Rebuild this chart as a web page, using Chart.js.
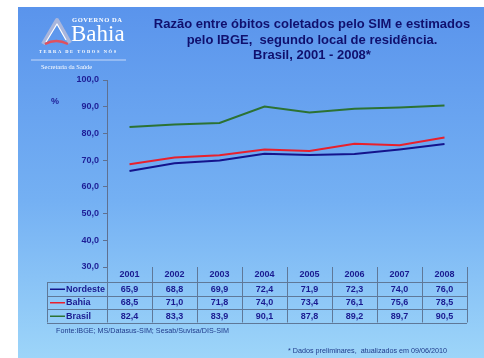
<!DOCTYPE html>
<html>
<head>
<meta charset="utf-8">
<script src="https://cdn.jsdelivr.net/npm/chart.js@4"></script>
<style>
body { margin: 0; background: #fff; font-family: "Liberation Sans", Arial, sans-serif; }
#slide { position: absolute; left: 18px; top: 7px; width: 466px; height: 351px;
  background: linear-gradient(#5a94ec, #74b0f3 55%, #9dd5f9); }
canvas { position: absolute; left: 0; top: 0; }
.t { position: absolute; white-space: nowrap; }
#title { left: 142px; top: 16px; width: 340px; text-align: center; color: #10106e;
  font-weight: bold; font-size: 13px; line-height: 15.5px; }
#gov { left: 72px; top: 16px; color: #fff; font: bold 6.5px "Liberation Serif", serif; letter-spacing: 0.6px; }
#bahia { left: 71px; top: 21px; color: #fff; font: 23px "Liberation Serif", serif; }
#terra { left: 39px; top: 49px; color: #fff; font: bold 4.5px "Liberation Serif", serif; letter-spacing: 1.6px; }
#sec { left: 41px; top: 63px; color: #fff; font: 6.5px "Liberation Serif", serif; }
#pct { left: 51px; top: 96px; color: #1e1e96; font-weight: bold; font-size: 9px; }
#fonte { left: 56px; top: 326px; color: #1f3a8a; font-size: 7.2px; }
#nota { left: 288px; top: 346px; color: #1f3a8a; font-size: 7.2px; }
</style>
</head>
<body>
<div id="slide"></div>
<canvas id="chart" width="484" height="358"></canvas>
<div class="t" id="gov">GOVERNO DA</div>
<div class="t" id="bahia">Bahia</div>
<div class="t" id="terra">TERRA DE TODOS NÓS</div>
<div class="t" id="sec">Secretaria da Saúde</div>
<div class="t" id="title">Razão entre óbitos coletados pelo SIM e estimados<br>pelo IBGE,&nbsp; segundo local de residência.<br>Brasil, 2001 - 2008*</div>
<div class="t" id="pct">%</div>
<div class="t" id="fonte">Fonte:IBGE; MS/Datasus-SIM; Sesab/Suvisa/DIS-SIM</div>
<div class="t" id="nota">* Dados preliminares,&nbsp; atualizados em 09/06/2010</div>
<script>
const years = ['2001', '2002', '2003', '2004', '2005', '2006', '2007', '2008'];
const nordeste = [65.9, 68.8, 69.9, 72.4, 71.9, 72.3, 74.0, 76.0];
const bahia = [68.5, 71.0, 71.8, 74.0, 73.4, 76.1, 75.6, 78.5];
const brasil = [82.4, 83.3, 83.9, 90.1, 87.8, 89.2, 89.7, 90.5];
const yTicks = [30, 40, 50, 60, 70, 80, 90, 100];

const series = [
    { name: 'Nordeste', data: nordeste, color: '#14148c' },
    { name: 'Bahia', data: bahia, color: '#e8202c' },
    { name: 'Brasil', data: brasil, color: '#2c7233' }
];

function fmt(v) {
    return v.toFixed(1).replace('.', ',');
}

// logo mark behind the text
const logoPlugin = {
    id: 'logo',
    beforeDraw(chart) {
        const ctx = chart.ctx;
        ctx.save();
        ctx.lineJoin = 'round';
        ctx.strokeStyle = '#a9b6dc';
        ctx.lineWidth = 4;
        ctx.beginPath();
        ctx.moveTo(43, 44);
        ctx.lineTo(57, 20);
        ctx.lineTo(70, 43);
        ctx.stroke();
        ctx.strokeStyle = '#ffffff';
        ctx.lineWidth = 1.2;
        ctx.beginPath();
        ctx.moveTo(46, 42);
        ctx.lineTo(57, 24);
        ctx.lineTo(66, 40);
        ctx.stroke();
        ctx.strokeStyle = '#e0505e';
        ctx.lineWidth = 2.5;
        ctx.beginPath();
        ctx.moveTo(45, 44);
        ctx.quadraticCurveTo(56, 38, 68, 44);
        ctx.stroke();
        ctx.strokeStyle = '#dfe8fb';
        ctx.lineWidth = 0.8;
        ctx.beginPath();
        ctx.moveTo(31, 60);
        ctx.lineTo(126, 60);
        ctx.stroke();
        ctx.restore();
    }
};

// data table under the plot, one column per category
const tablePlugin = {
    id: 'dataTable',
    afterDraw(chart) {
        const ctx = chart.ctx;
        const area = chart.chartArea;
        const xs = chart.scales.x;
        const colW = (area.right - area.left) / years.length;
        const top = area.bottom;
        const headH = 15;
        const rowH = 13.5;
        const left = 47;
        const bottom = top + headH + rowH * series.length;
        ctx.save();
        ctx.strokeStyle = '#5f7898';
        ctx.lineWidth = 1;
        ctx.beginPath();
        for (let i = 0; i <= series.length; i++) {
            const y = Math.round(top + headH + rowH * i) + 0.5;
            ctx.moveTo(left, y);
            ctx.lineTo(area.right, y);
        }
        ctx.moveTo(left + 0.5, top + headH);
        ctx.lineTo(left + 0.5, bottom);
        for (let i = 0; i <= years.length; i++) {
            const x = Math.round(area.left + colW * i) + 0.5;
            ctx.moveTo(x, top);
            ctx.lineTo(x, bottom);
        }
        ctx.stroke();

        ctx.fillStyle = '#1a1a90';
        ctx.font = 'bold 9px "Liberation Sans", Arial, sans-serif';
        ctx.textAlign = 'center';
        ctx.textBaseline = 'middle';
        years.forEach((yr, i) => {
            ctx.fillText(yr, xs.getPixelForValue(i), top + headH / 2 + 0.5);
        });
        series.forEach((s, r) => {
            const cy = top + headH + rowH * r + rowH / 2 + 0.5;
            ctx.textAlign = 'center';
            s.data.forEach((v, i) => {
                ctx.fillText(fmt(v), xs.getPixelForValue(i), cy);
            });
            ctx.strokeStyle = s.color;
            ctx.lineWidth = 1.5;
            ctx.beginPath();
            ctx.moveTo(50, cy);
            ctx.lineTo(65, cy);
            ctx.stroke();
            ctx.textAlign = 'left';
            ctx.fillText(s.name, 66, cy);
        });
        ctx.restore();
    }
};

const ctx = document.getElementById('chart').getContext('2d');
new Chart(ctx, {
    type: 'line',
    data: {
        labels: years,
        datasets: series.map(s => ({
            label: s.name,
            data: s.data,
            borderColor: s.color,
            borderWidth: 2,
            pointRadius: 0,
            tension: 0,
            fill: false
        }))
    },
    options: {
        responsive: false,
        animation: false,
        devicePixelRatio: 1,
        layout: { padding: { top: 80, right: 17, bottom: 91, left: 0 } },
        plugins: {
            legend: { display: false },
            tooltip: { enabled: false }
        },
        scales: {
            x: {
                display: false,
                offset: true
            },
            y: {
                min: 30,
                max: 100,
                afterFit(scale) { scale.width = 107; },
                afterBuildTicks(scale) { scale.ticks = yTicks.map(v => ({ value: v })); },
                border: { color: '#5f7090', width: 1 },
                grid: { drawOnChartArea: false, drawTicks: true, tickLength: 4, color: '#5f7090' },
                ticks: {
                    padding: 4,
                    color: '#1e1e96',
                    font: { family: '"Liberation Sans", Arial, sans-serif', size: 9, weight: 'bold' },
                    callback: v => fmt(v)
                }
            }
        }
    },
    plugins: [logoPlugin, tablePlugin]
});
</script>
</body>
</html>
